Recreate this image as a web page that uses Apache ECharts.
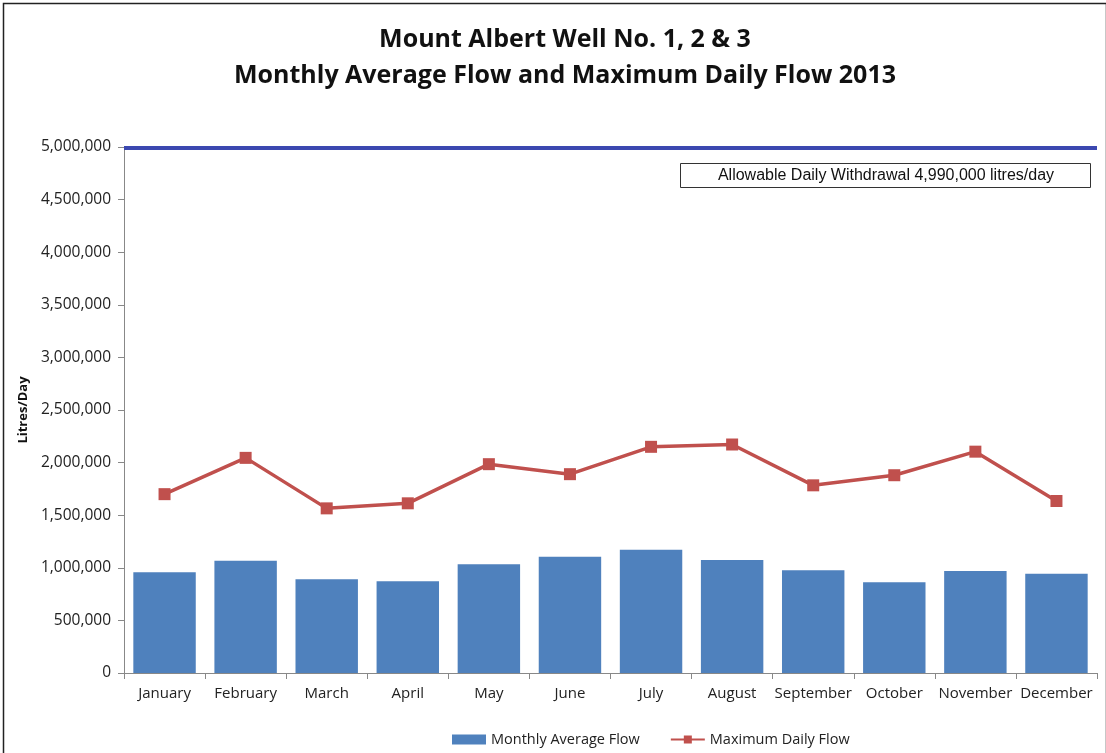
<!DOCTYPE html>
<html>
<head>
<meta charset="utf-8">
<script src="https://cdn.jsdelivr.net/npm/echarts@6/dist/echarts.min.js"></script>
<style>
html,body{margin:0;padding:0;background:#fff;}
#c{width:1106px;height:753px;}
</style>
</head>
<body>
<div id="c"></div>
<script>
var months = ['January','February','March','April','May','June','July','August','September','October','November','December'];
var monthlyAverage = [957000,1067000,890000,871000,1033000,1106000,1172000,1074000,976000,862000,970000,944000];
var maxDaily = [1700000,2045000,1565000,1613000,1985000,1890000,2150000,2172000,1784000,1880000,2104000,1635000];
var allowable = 4990000;

var chart = echarts.init(document.getElementById('c'), null, {renderer:'canvas'});
var fmt = function(v){ return v.toLocaleString('en-US'); };
chart.setOption({
  animation:false,
  backgroundColor:'#fff',
  title:{
    text:'Mount Albert Well No. 1, 2 & 3\nMonthly Average Flow and Maximum Daily Flow 2013',
    left:560, top:17, textAlign:'center',
    textStyle:{fontFamily:'Open Sans', fontWeight:'bold', fontSize:25, lineHeight:36, color:'#111'}
  },
  grid:{left:124, right:9, top:147, bottom:80},
  legend:{
    bottom:1, left:447,
    itemWidth:34, itemHeight:10, itemGap:30,
    textStyle:{fontFamily:'Open Sans', fontSize:14.5, color:'#222'},
    data:[{name:'Monthly Average Flow', icon:'rect'},{name:'Maximum Daily Flow'}]
  },
  xAxis:{
    type:'category', data:months,
    axisLine:{lineStyle:{color:'#888', width:1}},
    axisTick:{show:true, alignWithLabel:false, length:6, lineStyle:{color:'#888'}},
    axisLabel:{fontFamily:'Open Sans', fontSize:15, color:'#222', margin:13, interval:0}
  },
  yAxis:{
    type:'value', min:0, max:5000000, interval:500000,
    name:'Litres/Day', nameLocation:'middle', nameGap:80, nameRotate:90,
    nameTextStyle:{fontFamily:'Open Sans', fontWeight:'bold', fontSize:13, color:'#111'},
    axisLine:{show:true, lineStyle:{color:'#888'}},
    axisTick:{show:true, inside:false, length:6, lineStyle:{color:'#888'}},
    splitLine:{show:false},
    axisLabel:{fontFamily:'Open Sans', fontSize:15.5, color:'#222', margin:13, formatter:function(v){return fmt(v);}}
  },
  series:[
    {
      name:'Monthly Average Flow', type:'bar', data:monthlyAverage,
      barCategoryGap:'23%',
      itemStyle:{color:'#4F81BD'},
      markLine:{
        silent:true, symbol:'none', label:{show:false},
        lineStyle:{color:'#3B48B0', width:4, type:'solid'},
        data:[{yAxis:allowable}]
      }
    },
    {
      name:'Maximum Daily Flow', type:'line', data:maxDaily,
      symbol:'rect', symbolSize:12,
      lineStyle:{color:'#C0504D', width:3.5},
      itemStyle:{color:'#C0504D'}
    }
  ],
  graphic:[
    {type:'rect', left:1, top:1, shape:{width:1103, height:760}, style:{fill:'none', stroke:'#222', lineWidth:1.5}},
    {type:'rect', left:680, top:163, shape:{width:410, height:24}, style:{fill:'#fff', stroke:'#333', lineWidth:1}},
    {type:'text', x:886, y:176, style:{text:'Allowable Daily Withdrawal 4,990,000 litres/day', textAlign:'center', textVerticalAlign:'middle', fontFamily:'Liberation Sans', fontSize:16, fill:'#111'}}
  ]
});
</script>
</body>
</html>
